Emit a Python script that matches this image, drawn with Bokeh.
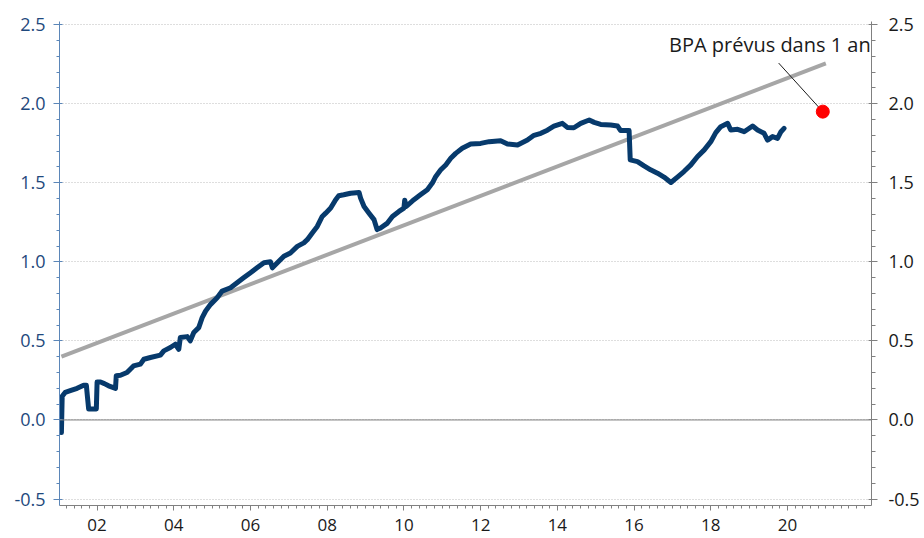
from bokeh.plotting import figure
from bokeh.models import (LinearAxis, FixedTicker, CustomJSTickFormatter, Span, Label,
                          Range1d, NumeralTickFormatter)
from bokeh.embed import file_html
from bokeh.resources import INLINE

# --- data ---
eps_years = [2001.07, 2001.09, 2001.17, 2001.30, 2001.48, 2001.65, 2001.72, 2001.75, 2001.78, 2001.98,
             2002.00, 2002.09, 2002.19, 2002.30, 2002.48, 2002.50, 2002.61, 2002.78, 2002.95, 2003.13,
             2003.22, 2003.39, 2003.65, 2003.74, 2003.91, 2004.04, 2004.13, 2004.17, 2004.35, 2004.43,
             2004.52, 2004.65, 2004.74, 2004.83, 2004.96, 2005.13, 2005.26, 2005.48, 2005.65, 2005.82,
             2006.00, 2006.17, 2006.35, 2006.52, 2006.57, 2006.70, 2006.87, 2007.04, 2007.22, 2007.39,
             2007.48, 2007.61, 2007.74, 2007.87, 2007.96, 2008.09, 2008.22, 2008.30, 2008.43, 2008.61,
             2008.83, 2008.87, 2008.96, 2009.09, 2009.22, 2009.30, 2009.39, 2009.57, 2009.70, 2009.87,
             2010.00, 2010.02, 2010.06, 2010.26, 2010.43, 2010.61, 2010.74, 2010.83, 2010.96, 2011.09,
             2011.22, 2011.35, 2011.52, 2011.74, 2012.00, 2012.22, 2012.52, 2012.70, 2012.96, 2013.04,
             2013.22, 2013.39, 2013.57, 2013.74, 2013.91, 2014.13, 2014.26, 2014.43, 2014.61, 2014.83,
             2014.96, 2015.13, 2015.39, 2015.57, 2015.65, 2015.87, 2015.90, 2016.09, 2016.26, 2016.43,
             2016.61, 2016.78, 2016.96, 2017.13, 2017.30, 2017.48, 2017.65, 2017.83, 2018.00, 2018.13,
             2018.26, 2018.44, 2018.52, 2018.70, 2018.87, 2019.09, 2019.22, 2019.39, 2019.48, 2019.61,
             2019.74, 2019.83, 2019.91]
eps_values = [-0.08, 0.15, 0.174, 0.185, 0.20, 0.22, 0.22, 0.143, 0.069, 0.069,
              0.24, 0.24, 0.23, 0.216, 0.20, 0.28, 0.283, 0.30, 0.342, 0.353,
              0.384, 0.395, 0.41, 0.437, 0.458, 0.479, 0.447, 0.521, 0.527, 0.50,
              0.553, 0.584, 0.647, 0.689, 0.731, 0.773, 0.815, 0.836, 0.868, 0.899,
              0.931, 0.962, 0.994, 1.0, 0.962, 0.994, 1.035, 1.056, 1.098, 1.12,
              1.14, 1.183, 1.224, 1.287, 1.308, 1.34, 1.393, 1.418, 1.424, 1.434,
              1.439, 1.403, 1.35, 1.308, 1.267, 1.204, 1.214, 1.245, 1.287, 1.319,
              1.34, 1.39, 1.35, 1.393, 1.424, 1.456, 1.498, 1.54, 1.582, 1.613,
              1.655, 1.686, 1.718, 1.745, 1.749, 1.76, 1.766, 1.745, 1.739, 1.749,
              1.77, 1.80, 1.813, 1.833, 1.858, 1.876, 1.85, 1.848, 1.876, 1.897,
              1.882, 1.869, 1.865, 1.859, 1.83, 1.83, 1.645, 1.634, 1.607, 1.582,
              1.561, 1.536, 1.502, 1.536, 1.571, 1.613, 1.665, 1.708, 1.76, 1.817,
              1.855, 1.876, 1.834, 1.838, 1.823, 1.859, 1.834, 1.813, 1.77, 1.792,
              1.781, 1.823, 1.844]

trend_years = [2001.07, 2021.0]
trend_values = [0.40, 2.255]

forecast_year = [2020.92]
forecast_value = [1.95]

leader_years = [2019.77, 2020.90]
leader_values = [2.257, 1.955]

annotation_text = "BPA prévus dans 1 an"
annotation_pos = (2022.17, 2.377)

x_tick_years = [2002, 2004, 2006, 2008, 2010, 2012, 2014, 2016, 2018, 2020]
y_ticks = [-0.5, 0.0, 0.5, 1.0, 1.5, 2.0, 2.5]

FONT = "Open Sans"

p = figure(width=924, height=538, output_backend="svg", toolbar_location=None,
           x_range=Range1d(2001.02, 2022.19), y_range=Range1d(-0.541, 2.52),
           min_border_left=59, min_border_right=53, min_border_top=21, min_border_bottom=33)
p.outline_line_color = None
p.background_fill_color = "white"
p.border_fill_color = "white"

# x axis
xminor = [2001.0 + 0.2 * i for i in range(0, 107)]
p.xaxis.ticker = FixedTicker(ticks=x_tick_years, minor_ticks=xminor)
p.xaxis.formatter = CustomJSTickFormatter(code="var v = Math.round(tick) % 100; return (v < 10 ? '0' : '') + v;")
p.xaxis.axis_line_color = "#808080"
p.xaxis.major_tick_line_color = "#808080"
p.xaxis.minor_tick_line_color = "#808080"
p.xaxis.major_tick_out = 5
p.xaxis.major_tick_in = 0
p.xaxis.minor_tick_out = 3
p.xaxis.minor_tick_in = 0
p.xaxis.major_label_standoff = 8
p.xaxis.major_label_text_font = FONT
p.xaxis.major_label_text_font_size = "17px"
p.xaxis.major_label_text_color = "#1a1a1a"

yminor = [round(-0.5 + 0.1 * i, 2) for i in range(0, 31)]
ytick = FixedTicker(ticks=y_ticks, minor_ticks=yminor)

# left axis
p.yaxis.ticker = ytick
p.yaxis.formatter = NumeralTickFormatter(format="0.0")
p.yaxis.axis_line_color = "#5B86B8"
p.yaxis.major_tick_line_color = "#5B86B8"
p.yaxis.minor_tick_line_color = "#5B86B8"
p.yaxis.major_tick_out = 6
p.yaxis.major_tick_in = 3
p.yaxis.minor_tick_out = 3
p.yaxis.minor_tick_in = 0
p.yaxis.major_label_standoff = 8
p.yaxis.major_label_text_font = FONT
p.yaxis.major_label_text_font_size = "18px"
p.yaxis.major_label_text_color = "#1F497D"

# right axis
ra = LinearAxis(ticker=FixedTicker(ticks=y_ticks, minor_ticks=yminor),
                formatter=NumeralTickFormatter(format="0.0"))
ra.axis_line_color = "#808080"
ra.major_tick_line_color = "#808080"
ra.minor_tick_line_color = "#808080"
ra.major_tick_out = 6
ra.major_tick_in = 3
ra.minor_tick_out = 4
ra.minor_tick_in = 0
ra.major_label_standoff = 11
ra.major_label_text_font = FONT
ra.major_label_text_font_size = "18px"
ra.major_label_text_color = "#1a1a1a"
p.add_layout(ra, "right")

# grid
p.xgrid.grid_line_color = None
p.ygrid.ticker = FixedTicker(ticks=y_ticks)
p.ygrid.grid_line_color = "#BDBDBD"
p.ygrid.grid_line_dash = "1 2"
p.ygrid.grid_line_width = 1

p.add_layout(Span(location=0.0, dimension="width", line_color="#7F7F7F", line_width=1))

# series
p.line(trend_years, trend_values, line_color="#A6A6A6", line_width=4)
p.line(eps_years, eps_values, line_color="#073A6C", line_width=5, line_join="round", line_cap="round")
p.segment(x0=[leader_years[0]], y0=[leader_values[0]], x1=[leader_years[1]], y1=[leader_values[1]],
          line_color="#1a1a1a", line_width=1)
p.scatter(forecast_year, forecast_value, size=13, fill_color="#FF0000", line_color="#FF0000")

p.add_layout(Label(x=annotation_pos[0], y=annotation_pos[1], text=annotation_text,
                   text_align="right", text_baseline="middle", text_font=FONT,
                   text_font_size="20px", text_color="#1a1a1a"))

open("out.html", "w").write(file_html(p, INLINE))
